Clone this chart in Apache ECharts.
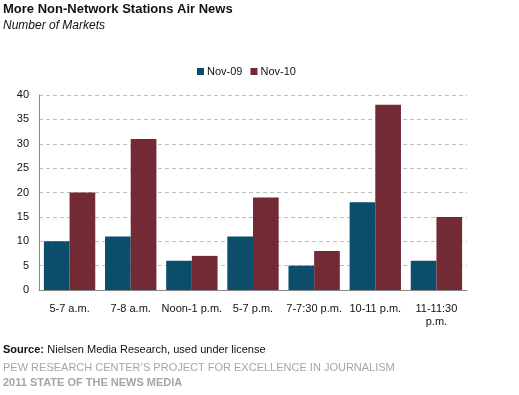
<!DOCTYPE html>
<html><head><meta charset="utf-8">
<script src="https://cdn.jsdelivr.net/npm/echarts@6/dist/echarts.min.js"></script>
<style>html,body{margin:0;padding:0;background:#fff}#c{width:519px;height:395px}</style>
</head><body><div id="c"></div>
<script>
const categories = ['5-7 a.m.', '7-8 a.m.', 'Noon-1 p.m.', '5-7 p.m.', '7-7:30 p.m.', '10-11 p.m.', '11-11:30\np.m.'];
const nov09 = [10, 11, 6, 11, 5, 18, 6];
const nov10 = [20, 31, 7, 19, 8, 38, 15];
const yTicks = [0, 5, 10, 15, 20, 25, 30, 35, 40];
const ff = 'Arial, "Liberation Sans", sans-serif';
const chart = echarts.init(document.getElementById('c'));
chart.setOption({
  animation: false,
  textStyle: {fontFamily: ff},
  graphic: [
    {type: 'text', left: 3, top: 3, style: {text: 'More Non-Network Stations Air News', font: 'bold 13px ' + ff, fill: '#111'}},
    {type: 'text', left: 3, top: 20, style: {text: 'Number of Markets', font: 'italic 12px ' + ff, fill: '#111'}},
    {type: 'text', left: 3, top: 344, style: {rich: {b: {font: 'bold 11px ' + ff, fill: '#111'}, n: {font: '11px ' + ff, fill: '#111'}}, text: '{b|Source:} {n|Nielsen Media Research, used under license}'}},
    {type: 'text', left: 3, top: 362, style: {text: 'PEW RESEARCH CENTER\u2019S PROJECT FOR EXCELLENCE IN JOURNALISM', font: '11px ' + ff, fill: '#a6a6a6'}},
    {type: 'text', left: 3, top: 377, style: {text: '2011 STATE OF THE NEWS MEDIA', font: 'bold 11px ' + ff, fill: '#a6a6a6'}}
  ],
  legend: {
    top: 61, left: 192, itemWidth: 7, itemHeight: 7, itemGap: 8,
    icon: 'rect', textStyle: {fontSize: 11, color: '#111', padding: [0, 0, 0, -2]},
    data: ['Nov-09', 'Nov-10']
  },
  grid: {left: 39, right: 52, top: 95, bottom: 105, containLabel: false},
  xAxis: {
    type: 'category', data: categories,
    axisLine: {lineStyle: {color: '#888'}},
    axisTick: {show: false},
    axisLabel: {color: '#111', fontSize: 11, margin: 12, interval: 0, lineHeight: 13}
  },
  yAxis: {
    type: 'value', min: 0, max: 40, interval: 5,
    axisLine: {show: true, lineStyle: {color: '#888'}},
    axisTick: {show: false},
    axisLabel: {color: '#111', fontSize: 11, margin: 10, formatter: v => yTicks.includes(v) ? String(v) : ''},
    splitLine: {lineStyle: {color: '#c0c0c0', type: [4, 3]}}
  },
  series: [
    {name: 'Nov-09', type: 'bar', data: nov09, itemStyle: {color: '#0b4d6b'}, barGap: '0%', barCategoryGap: '16%'},
    {name: 'Nov-10', type: 'bar', data: nov10, itemStyle: {color: '#722b35'}, barGap: '0%', barCategoryGap: '16%'}
  ]
});
</script></body></html>
